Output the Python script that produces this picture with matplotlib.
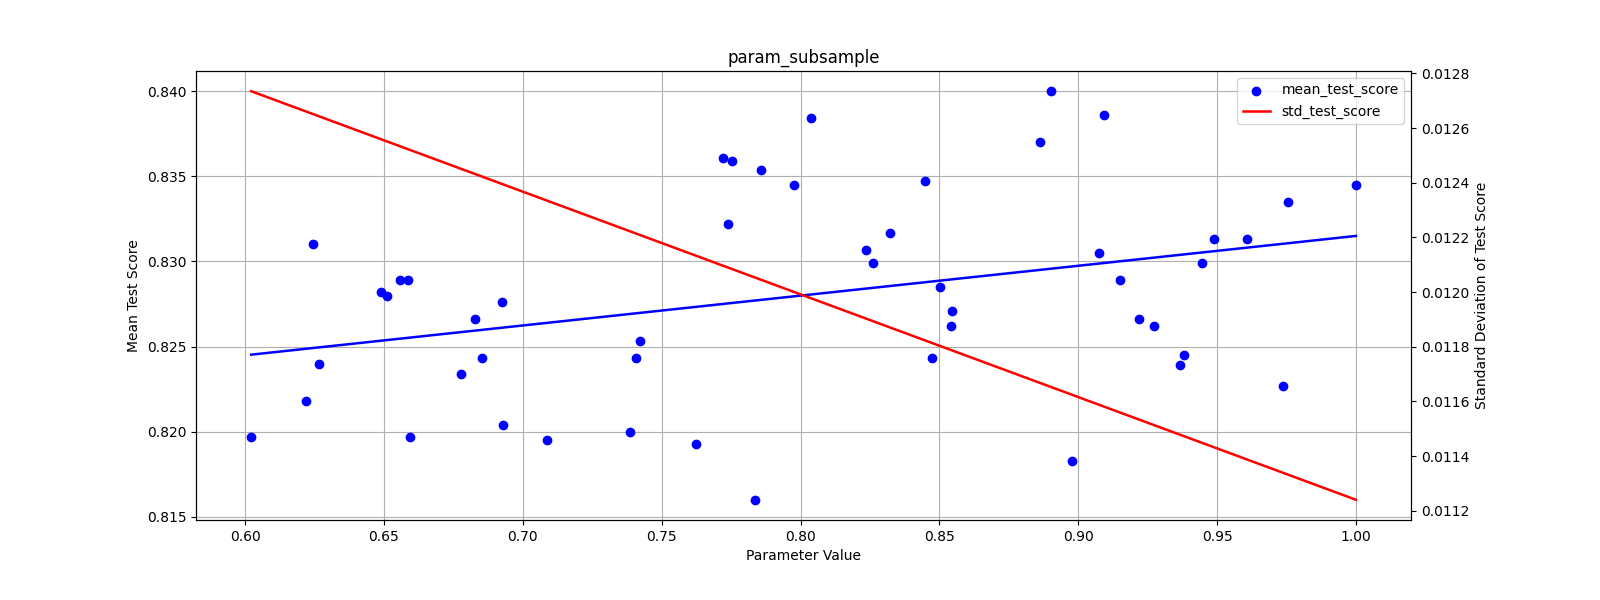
import numpy as np
import matplotlib
matplotlib.use("Agg")
import matplotlib.pyplot as plt

# values
param_values = [0.6022, 0.622, 0.6245, 0.6265, 0.649, 0.651, 0.6558, 0.6587, 0.6594,
                0.6778, 0.6828, 0.6853, 0.6925, 0.6929, 0.7088, 0.7386, 0.7408, 0.7422,
                0.7624, 0.7721, 0.7739, 0.7754, 0.7836, 0.7858, 0.7977, 0.8038, 0.8236,
                0.8261, 0.8322, 0.8448, 0.8473, 0.8502, 0.8542, 0.8545, 0.8862, 0.8902,
                0.8978, 0.9075, 0.9093, 0.9150, 0.9219, 0.9273, 0.9366, 0.9381, 0.9446,
                0.9489, 0.9608, 0.9737, 0.9755, 1.0]
mean_test_score = [0.8197, 0.8218, 0.8310, 0.8240, 0.8282, 0.8280, 0.8289, 0.8289, 0.8197,
                   0.8234, 0.8266, 0.8243, 0.8276, 0.8204, 0.8195, 0.8200, 0.8243, 0.8253,
                   0.8193, 0.8361, 0.8322, 0.8359, 0.8160, 0.8354, 0.8345, 0.8384, 0.8307,
                   0.8299, 0.8317, 0.8347, 0.8243, 0.8285, 0.8262, 0.8271, 0.8370, 0.8400,
                   0.8183, 0.8305, 0.8386, 0.8289, 0.8266, 0.8262, 0.8239, 0.8245, 0.8299,
                   0.8313, 0.8313, 0.8227, 0.8335, 0.8345]
# fitted std trend at the ends of the parameter range
std_trend_x = [0.6022, 1.0]
std_trend_y = [0.012735, 0.01124]

x = np.array(param_values)
y = np.array(mean_test_score)

fig, ax1 = plt.subplots(figsize=(16, 6), dpi=100)
fig.subplots_adjust(left=0.1225, right=0.882, top=0.882, bottom=0.133)

sc = ax1.scatter(x, y, color="blue", label="mean_test_score", zorder=3)
coef = np.polyfit(x, y, 1)
ax1.plot(x, np.polyval(coef, x), color="blue", linewidth=1.8)
ax1.set_xlabel("Parameter Value")
ax1.set_ylabel("Mean Test Score")
ax1.set_title("param_subsample")
ax1.grid(True)

ax2 = ax1.twinx()
ln, = ax2.plot(std_trend_x, std_trend_y, color="red", label="std_test_score", linewidth=1.8)
ax2.set_ylabel("Standard Deviation of Test Score")

ax1.legend([sc, ln], ["mean_test_score", "std_test_score"], loc="upper right")

fig.savefig("out.png")
